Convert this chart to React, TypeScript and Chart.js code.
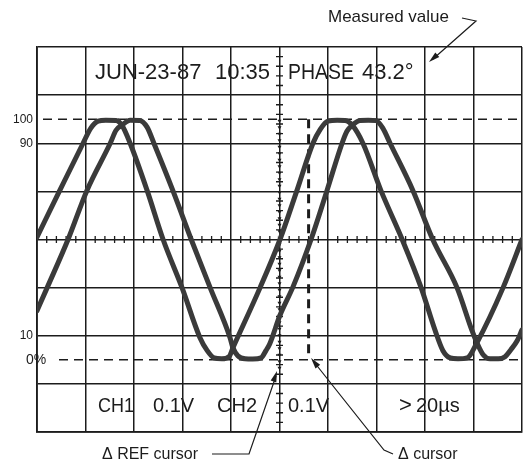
import React, { useEffect, useRef } from "react";
import { Chart, registerables } from "chart.js";

Chart.register(...registerables);

// ---- Data (x in screen divisions 0..10, y in % of amplitude) ----
const xGridDivs = [0, 1, 2, 3, 4, 5, 6, 7, 8, 9, 10];
const yGridPercent = [-30, -10, 10, 30, 50, 70, 90, 110, 130];

const waveAX = [0, 0.47, 0.95, 1.11, 1.26, 1.42, 1.63, 1.75, 1.92, 2.27, 2.6, 2.99, 3.36, 3.51, 3.65, 3.81, 3.96, 4.04, 4.6, 5.01, 5.36, 5.69, 5.84, 6.0, 6.19, 6.35, 6.5, 6.72, 7.09, 7.53, 7.92, 8.21, 8.37, 8.52, 8.68, 8.87, 9.07, 9.61, 10];
const waveAY = [51, 70.4, 90, 96.3, 99.2, 99.6, 99.5, 97.5, 90, 70.4, 50, 30, 9.2, 3.8, 0.8, 0.4, 1.3, 5, 30, 50, 70.4, 90, 95.8, 99.2, 99.6, 99.5, 97.5, 90, 70.4, 50, 30, 12.1, 3.8, 0.8, 0.4, 0.8, 7.1, 30, 50];

const waveBX = [0, 0.21, 0.64, 1.03, 1.51, 1.63, 1.75, 1.92, 2.12, 2.27, 2.41, 2.8, 3.18, 3.57, 3.98, 4.04, 4.14, 4.29, 4.45, 4.62, 4.72, 4.8, 5.01, 5.28, 5.65, 5.98, 6.29, 6.39, 6.5, 6.66, 6.83, 6.99, 7.13, 7.28, 7.75, 8.16, 8.66, 8.97, 9.07, 9.2, 9.34, 9.51, 9.65, 9.77, 9.9, 10];
const waveBY = [20.4, 30, 50, 70.4, 90, 95.4, 97.5, 99.6, 99.5, 96.7, 90, 70.4, 50, 30, 9.2, 5, 1.7, 0.4, 0.3, 0.8, 3.8, 6.7, 18.5, 30.4, 50, 70.4, 90, 95, 97.5, 99.5, 99.6, 99.4, 96.3, 90, 70.4, 50, 30, 12.1, 7.1, 2.1, 0.4, 0.4, 1.3, 4.2, 7.9, 12.5];

const levelLabels = ["100", "90", "10"];
const levelValues = [100, 90, 10];
const zeroLabel = "0%";
const refCursorX = 5;
const deltaCursorX = 5.6;
const topTexts = ["JUN-23-87", "10:35", "PHASE", "43.2°"];
const bottomTexts = ["CH1", "0.1V", "CH2", "0.1V", ">", "20µs"];
const noteTexts = ["Measured value", "Δ REF cursor", "Δ cursor"];

const INK = "#1c1c1c";
const FONT = '"Liberation Sans", Arial, sans-serif';

function arrowHead(ctx: CanvasRenderingContext2D, fx: number, fy: number, tx: number, ty: number, len: number, half: number) {
  const a = Math.atan2(ty - fy, tx - fx);
  ctx.beginPath();
  ctx.moveTo(tx, ty);
  ctx.lineTo(tx - len * Math.cos(a) + half * Math.sin(a), ty - len * Math.sin(a) - half * Math.cos(a));
  ctx.lineTo(tx - len * Math.cos(a) - half * Math.sin(a), ty - len * Math.sin(a) + half * Math.cos(a));
  ctx.closePath();
  ctx.fill();
}

const scopePlugin = {
  id: "scope",
  beforeDatasetsDraw(chart: any) {
    const { ctx, chartArea: a, scales } = chart;
    const x = scales.x, y = scales.y;
    ctx.save();
    ctx.strokeStyle = INK;
    ctx.fillStyle = INK;
    // 100% and 0% dashed reference lines
    ctx.lineWidth = 1.4;
    ctx.setLineDash([9, 6]);
    const y100 = y.getPixelForValue(100);
    const y0 = y.getPixelForValue(0);
    ctx.beginPath();
    ctx.moveTo(a.left + 6, y100);
    ctx.lineTo(a.right, y100);
    ctx.stroke();
    ctx.beginPath();
    ctx.moveTo(a.left + 22, y0);
    ctx.lineTo(a.right, y0);
    ctx.stroke();
    ctx.setLineDash([]);
    // minor ticks on the centre lines
    const yc = y.getPixelForValue(50);
    const xc = x.getPixelForValue(refCursorX);
    ctx.lineWidth = 1.3;
    ctx.beginPath();
    for (let i = 1; i < 50; i++) {
      if (i % 5 === 0) continue;
      const px = x.getPixelForValue(i * 0.2);
      ctx.moveTo(px, yc - 3.5);
      ctx.lineTo(px, yc + 3.5);
    }
    for (let i = 1; i < 40; i++) {
      if (i % 5 === 0) continue;
      const py = y.getPixelForValue(-30 + i * 4);
      ctx.moveTo(xc - 3.5, py);
      ctx.lineTo(xc + 3.5, py);
    }
    ctx.stroke();
    // Δ REF cursor: dotted markers on the centre vertical line
    const yRefEnd = y.getPixelForValue(-5);
    for (let py = y100 + 2; py < yRefEnd; py += 6.5) {
      ctx.beginPath();
      ctx.moveTo(xc - 2, py - 1.5);
      ctx.lineTo(xc + 2, py - 1.5);
      ctx.lineTo(xc, py + 2);
      ctx.closePath();
      ctx.fill();
    }
    // Δ cursor: thick dashed vertical line
    const xd = x.getPixelForValue(deltaCursorX);
    ctx.lineWidth = 3;
    ctx.setLineDash([9, 6]);
    ctx.beginPath();
    ctx.moveTo(xd, y100);
    ctx.lineTo(xd, y.getPixelForValue(1));
    ctx.stroke();
    ctx.setLineDash([]);
    ctx.restore();
  },
  afterDatasetsDraw(chart: any) {
    const { ctx, scales } = chart;
    const y = scales.y;
    ctx.save();
    ctx.fillStyle = INK;
    ctx.strokeStyle = INK;
    // level labels
    ctx.font = `12px ${FONT}`;
    ctx.textAlign = "right";
    ctx.textBaseline = "middle";
    levelLabels.forEach((t, i) => ctx.fillText(t, 33, y.getPixelForValue(levelValues[i])));
    ctx.textAlign = "left";
    ctx.font = `14px ${FONT}`;
    ctx.fillText(zeroLabel, 26, y.getPixelForValue(0));
    ctx.textBaseline = "alphabetic";
    // top row text
    ctx.font = `22px ${FONT}`;
    ctx.fillText(topTexts[0], 95, 79);
    ctx.fillText(topTexts[1], 215, 79);
    ctx.fillText(topTexts[2], 288, 79, 66);
    ctx.fillText(topTexts[3], 362, 79);
    // bottom row text
    ctx.font = `20px ${FONT}`;
    ctx.fillText(bottomTexts[0], 98, 412, 36);
    ctx.fillText(bottomTexts[1], 153, 412);
    ctx.fillText(bottomTexts[2], 217, 412, 42);
    ctx.fillText(bottomTexts[3], 288, 412);
    ctx.font = `22px ${FONT}`;
    ctx.fillText(bottomTexts[4], 399, 412);
    ctx.font = `20px ${FONT}`;
    ctx.fillText(bottomTexts[5], 416, 412);
    // annotations
    ctx.font = `17px ${FONT}`;
    ctx.fillText(noteTexts[0], 328, 22);
    ctx.font = `16px ${FONT}`;
    ctx.fillText(noteTexts[1], 102, 459);
    ctx.fillText(noteTexts[2], 398, 459);
    ctx.lineWidth = 1.2;
    // measured value leader
    ctx.beginPath();
    ctx.moveTo(462, 18);
    ctx.lineTo(476, 21);
    ctx.lineTo(433, 59);
    ctx.stroke();
    arrowHead(ctx, 476, 21, 429, 62, 11, 3);
    // Δ REF cursor leader
    ctx.beginPath();
    ctx.moveTo(212, 454);
    ctx.lineTo(249, 454);
    ctx.lineTo(276, 376);
    ctx.stroke();
    arrowHead(ctx, 249, 454, 277, 371, 11, 3);
    // Δ cursor leader
    ctx.beginPath();
    ctx.moveTo(393, 454);
    ctx.lineTo(384, 450);
    ctx.lineTo(314, 362);
    ctx.stroke();
    arrowHead(ctx, 384, 450, 311, 358, 11, 3);
    ctx.restore();
  },
};

export default function App() {
  const ref = useRef<HTMLCanvasElement>(null);
  useEffect(() => {
    document.body.style.margin = "0";
    const mk = (xs: number[], ys: number[]) => xs.map((v, i) => ({ x: v, y: ys[i] }));
    const lineStyle = {
      borderColor: "#3a3a3a",
      borderWidth: 5,
      pointRadius: 0,
      fill: false,
      cubicInterpolationMode: "monotone" as const,
      borderCapStyle: "round" as const,
      borderJoinStyle: "round" as const,
    };
    const chart = new Chart(ref.current!, {
      type: "line",
      data: {
        datasets: [
          { label: "CH1", data: mk(waveAX, waveAY), ...lineStyle },
          { label: "CH2", data: mk(waveBX, waveBY), ...lineStyle },
        ],
      },
      options: {
        responsive: false,
        animation: false,
        devicePixelRatio: 1,
        layout: { padding: { left: 37, right: 3, top: 47, bottom: 33 } },
        plugins: { legend: { display: false }, tooltip: { enabled: false } },
        scales: {
          x: {
            type: "linear",
            min: 0,
            max: 10,
            afterBuildTicks: (s: any) => { s.ticks = xGridDivs.map((v) => ({ value: v })); },
            ticks: { display: false },
            grid: { color: INK, lineWidth: 1.5, drawTicks: false },
            border: { color: INK, width: 1.8 },
          },
          y: {
            type: "linear",
            min: -30,
            max: 130,
            afterBuildTicks: (s: any) => { s.ticks = yGridPercent.map((v) => ({ value: v })); },
            ticks: { display: false },
            grid: { color: INK, lineWidth: 1.5, drawTicks: false },
            border: { color: INK, width: 1.8 },
          },
        },
      },
      plugins: [scopePlugin],
    });
    return () => chart.destroy();
  }, []);
  return (
    <div style={{ width: 525, height: 465 }}>
      <canvas ref={ref} width={525} height={465} style={{ display: "block" }} />
    </div>
  );
}
